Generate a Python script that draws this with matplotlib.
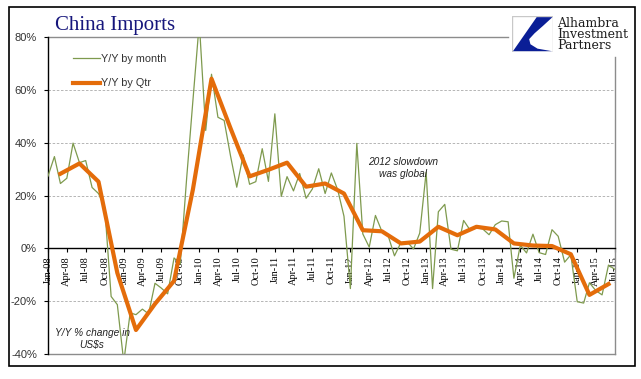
import matplotlib.pyplot as plt
import matplotlib.dates as mdates
import matplotlib.patches as mpatches
import pandas as pd


W, H = 641, 379

# monthly Y/Y change of China imports, Jan-08 .. Jul-15
months = pd.date_range("2008-01-01", "2015-07-01", freq="MS")
yy_month = [
    27.4, 34.8, 24.6, 26.6, 39.9, 32.5, 33.3, 23.1, 20.8, 15.6, -18.2, -21.3,
    -43.0, -24.4, -25.1, -23.0, -24.8, -13.2, -15.0, -17.2, -3.6, -5.9, 26.7, 55.9,
    85.5, 44.7, 66.0, 49.7, 48.5, 35.0, 23.2, 35.4, 24.3, 25.3, 37.8, 25.4,
    51.0, 19.7, 27.2, 21.8, 28.4, 19.0, 22.5, 30.2, 20.8, 28.6, 22.1, 12.2,
    -15.2, 39.8, 5.5, 0.5, 12.5, 6.5, 4.9, -2.8, 2.2, 2.5, -0.2, 5.8,
    28.9, -15.2, 13.9, 16.7, -0.3, -0.9, 10.6, 7.0, 7.8, 7.4, 5.2, 9.0,
    10.4, 10.1, -11.3, 1.2, -1.7, 5.4, -1.6, -2.3, 7.1, 4.6, -5.2, -2.4,
    -20.2, -20.7, -13.0, -16.0, -17.6, -6.3, -7.9,
]

# quarterly Y/Y change, plotted at quarter-end months Mar-08 .. Jun-15
quarters = pd.date_range("2008-03-01", "2015-06-01", freq="3MS")
yy_qtr = [
    28.3, 32.2, 25.3, -9.3,
    -30.9, -21.0, -12.3, 22.3,
    64.3, 45.5, 27.3, 29.8,
    32.5, 23.4, 24.6, 20.8,
    6.9, 6.5, 1.9, 2.6,
    8.2, 5.0, 8.2, 7.2,
    1.9, 1.1, 0.9, -2.2,
    -17.6, -13.5,
]

y_ticks = [-40, -20, 0, 20, 40, 60, 80]
grid_levels = [-20, 20, 40, 60]

GREEN = "#7E9A4E"
ORANGE = "#E46C0A"
NAVY = "#16167C"
GRID = "#AAAAAA"
BORDER = "#8C8C8C"


fig = plt.figure(figsize=(W / 100, H / 100), dpi=100)
fig.patch.set_facecolor("white")

# outer black frame
fig.patches.append(mpatches.Rectangle((9 / W, 1 - 366 / H), 626 / W, 359 / H,
                                      transform=fig.transFigure, fill=False,
                                      edgecolor="black", linewidth=1.2))

ax = fig.add_axes([48 / W, 1 - 354 / H, 566.7 / W, 316.7 / H])

for level in grid_levels:
    ax.axhline(level, color=GRID, linestyle=(0, (3, 2)), linewidth=0.6, zorder=1)

ax.plot(months, yy_month, color=GREEN, linewidth=0.9, label="Y/Y by month", zorder=3)
ax.plot(quarters, yy_qtr, color=ORANGE, linewidth=3.0, label="Y/Y by Qtr", zorder=4)

ax.set_xlim(months[0], months[-1])
ax.set_ylim(-40, 80)

# axis frame: black left spine and zero line, grey partial border
for side in ["top", "right"]:
    ax.spines[side].set_visible(False)
ax.spines["bottom"].set_position(("data", 0))
ax.spines["bottom"].set_color("black")
ax.spines["left"].set_color("black")
ax.spines["bottom"].set_linewidth(1.0)
ax.spines["left"].set_linewidth(1.0)
ax.axhline(-40, color=BORDER, linewidth=1.0, clip_on=False, zorder=2)
ax.plot([0, 0.812], [1, 1], transform=ax.transAxes, color=BORDER,
        linewidth=1.0, clip_on=False)
ax.plot([1, 1], [0, 0.938], transform=ax.transAxes, color=BORDER,
        linewidth=1.0, clip_on=False)

ax.set_yticks(y_ticks)
ax.set_yticklabels([f"{v}%" for v in y_ticks], fontsize=8, color="#333333",
                   family="Liberation Sans")
ax.tick_params(axis="y", direction="out", length=3, width=0.8, pad=5)

ax.xaxis.set_major_locator(mdates.MonthLocator(bymonth=[1, 4, 7, 10]))
ax.xaxis.set_major_formatter(mdates.DateFormatter("%b-%y"))
ax.tick_params(axis="x", direction="out", length=3, width=0.8, pad=2.5)
for lbl in ax.get_xticklabels():
    lbl.set_rotation(90)
    lbl.set_fontsize(7.5)
    lbl.set_family("Liberation Serif")
    lbl.set_ha("center")
    lbl.set_va("top")

leg = ax.legend(loc="upper left", bbox_to_anchor=(0.044, 0.948), frameon=False,
                borderpad=0, borderaxespad=0, handlelength=2.5,
                handletextpad=0.1, labelspacing=1.35,
                prop={"family": "Liberation Sans", "size": 7.8})
for txt in leg.get_texts():
    txt.set_color("#333333")

ax.text(pd.Timestamp("2012-09-10"), 30.3, "2012 slowdown\nwas global",
        ha="center", va="center", fontsize=7.3, style="italic",
        family="Liberation Sans", color="#222222", linespacing=1.25)
ax.text(pd.Timestamp("2008-08-01"), -34.2, "Y/Y % change in\nUS\\$s",
        ha="center", va="center", fontsize=7.3, style="italic",
        family="Liberation Sans", color="#222222", linespacing=1.25)

fig.text(55 / W, 1 - 30 / H, "China Imports", fontsize=15,
         family="Liberation Serif", color=NAVY, ha="left", va="baseline")

# logo: square with blue swoosh, company name beside it
logo = fig.add_axes([511.7 / W, 1 - 52.3 / H, 41.6 / W, 36.6 / H])
logo.set_xlim(0, 1)
logo.set_ylim(0, 1)
logo.axis("off")
logo.add_patch(mpatches.Rectangle((0, 0), 1, 1, fill=False,
                                  edgecolor="#C8C8C8", linewidth=1.0))
logo.add_patch(mpatches.Polygon(
    [(0.60, 0.96), (0.98, 0.96), (0.75, 0.72), (0.55, 0.52), (0.42, 0.36),
     (0.45, 0.22), (0.62, 0.10), (0.97, 0.03), (0.03, 0.03)],
    closed=True, facecolor="#0A1E96", edgecolor="none"))

fig.text(557 / W, 1 - 49 / H, "Alhambra\nInvestment\nPartners", fontsize=9,
         family="DejaVu Serif", color="#1E1E1E", ha="left", va="baseline",
         linespacing=0.78)

fig.savefig("out.png", dpi=100)
